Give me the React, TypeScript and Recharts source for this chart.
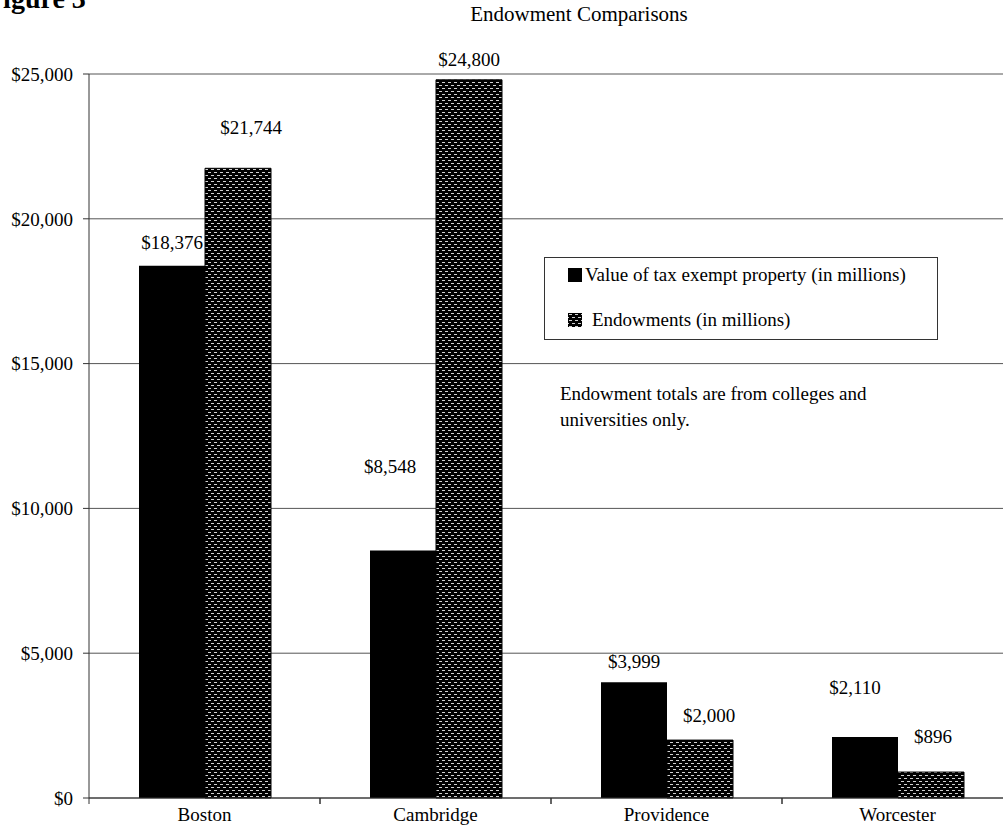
import React from "react";
import { BarChart, Bar, XAxis, YAxis, CartesianGrid, Legend, LabelList } from "recharts";

const categories = ["Boston", "Cambridge", "Providence", "Worcester"];
const propertyValues = [18376, 8548, 3999, 2110];
const endowmentValues = [21744, 24800, 2000, 896];
const yTicks = [0, 5000, 10000, 15000, 20000, 25000];
const seriesNames = ["Value of tax exempt property (in millions)", "Endowments (in millions)"];

// label nudges (style, not data)
const liftProperty = [23, 84, 21, 50];
const shiftProperty = [0, -13, 0, -10];
const liftEndow = [41, 20, 25, 36];
const shiftEndow = [13, 0, 9, 2];

const data = categories.map((c, i) => ({
  name: c,
  property: propertyValues[i],
  endowment: endowmentValues[i],
}));

const FONT = "'Liberation Serif', 'Times New Roman', serif";
const CHART_W = 1030;
const PLOT_LEFT = 89;
const PLOT_RIGHT = 1013;
const BAND = (PLOT_RIGHT - PLOT_LEFT) / categories.length;

const fmt = (v: number) => "$" + v.toLocaleString("en-US");

const makeLabel = (lift: number[], shift: number[]) => (props: any) => {
  const { x, y, width, value, index } = props;
  return (
    <text
      x={x + width / 2 + shift[index]}
      y={y - lift[index]}
      dy="0.35em"
      textAnchor="middle"
      fontFamily={FONT}
      fontSize={19}
      fill="#000"
    >
      {fmt(value)}
    </text>
  );
};

const XTick = (props: any) => {
  const { x, y, payload } = props;
  return (
    <g>
      <line x1={x - BAND / 2} x2={x - BAND / 2} y1={y} y2={y + 6} stroke="#333" />
      <line x1={x + BAND / 2} x2={x + BAND / 2} y1={y} y2={y + 6} stroke="#333" />
      <text x={x} y={y + 23} textAnchor="middle" fontFamily={FONT} fontSize={19} fill="#000">
        {payload.value}
      </text>
    </g>
  );
};

const PatternDef = ({ id }: { id: string }) => (
  <pattern id={id} width={6} height={6} patternUnits="userSpaceOnUse">
    <rect x={0} y={0} width={6} height={6} fill="#000" />
    <rect x={1} y={1} width={3} height={1} fill="#d0d0d0" />
    <rect x={4} y={4} width={3} height={1} fill="#d0d0d0" />
    <rect x={-2} y={4} width={3} height={1} fill="#d0d0d0" />
  </pattern>
);

const LegendBox = () => (
  <div
    style={{
      width: 392,
      height: 81,
      border: "1px solid #333",
      background: "#fff",
      fontFamily: FONT,
      fontSize: 19,
      color: "#000",
      position: "relative",
      boxSizing: "content-box",
    }}
  >
    <div style={{ position: "absolute", left: 23, top: 6, display: "flex", alignItems: "center", whiteSpace: "nowrap" }}>
      <span style={{ display: "inline-block", width: 14, height: 14, background: "#000", marginRight: 3 }} />
      <span>{seriesNames[0]}</span>
    </div>
    <div style={{ position: "absolute", left: 23, top: 51, display: "flex", alignItems: "center", whiteSpace: "nowrap" }}>
      <svg width={14} height={14} style={{ marginRight: 10 }}>
        <defs>
          <PatternDef id="legendPat" />
        </defs>
        <rect x={0} y={0} width={14} height={14} fill="url(#legendPat)" />
      </svg>
      <span>{seriesNames[1]}</span>
    </div>
  </div>
);

export default function App() {
  return (
    <div style={{ position: "absolute", left: 0, top: 0, width: 1003, height: 840, overflow: "hidden", background: "#fff" }}>
      <BarChart
        width={CHART_W}
        height={840}
        data={data}
        margin={{ top: 74, right: CHART_W - PLOT_RIGHT, bottom: 0, left: 0 }}
        barGap={0}
      >
        <defs>
          <PatternDef id="endowPat" />
        </defs>
        <CartesianGrid vertical={false} stroke="#555" />
        <XAxis
          dataKey="name"
          height={42}
          tickSize={0}
          tickMargin={0}
          tick={<XTick />}
          axisLine={{ stroke: "#333" }}
          tickLine={false}
          interval={0}
        />
        <YAxis
          width={PLOT_LEFT}
          domain={[0, 25000]}
          ticks={yTicks}
          tickFormatter={fmt}
          tickSize={6}
          tickMargin={10}
          axisLine={{ stroke: "#333" }}
          tickLine={{ stroke: "#333" }}
          tick={{ fontFamily: FONT, fontSize: 19, fill: "#000" }}
          interval={0}
        />
        <Legend
          layout="horizontal"
          verticalAlign="middle"
          align="center"
          content={<LegendBox />}
          wrapperStyle={{ position: "absolute", left: 544, top: 257, width: 394, height: 83 }}
        />
        <Bar dataKey="property" name={seriesNames[0]} fill="#000" barSize={66} isAnimationActive={false}>
          <LabelList dataKey="property" content={makeLabel(liftProperty, shiftProperty)} />
        </Bar>
        <Bar dataKey="endowment" name={seriesNames[1]} fill="url(#endowPat)" stroke="#000" barSize={66} isAnimationActive={false}>
          <LabelList dataKey="endowment" content={makeLabel(liftEndow, shiftEndow)} />
        </Bar>
      </BarChart>
      <svg width={1003} height={840} style={{ position: "absolute", left: 0, top: 0, pointerEvents: "none" }}>
        <text x={-14} y={8} fontFamily={FONT} fontSize={28} fontWeight="bold" fill="#000">
          Figure 3
        </text>
        <text x={579} y={21} textAnchor="middle" fontFamily={FONT} fontSize={21} fill="#000">
          Endowment Comparisons
        </text>
        <text x={560} y={400} fontFamily={FONT} fontSize={19} fill="#000">
          Endowment totals are from colleges and
        </text>
        <text x={560} y={426} fontFamily={FONT} fontSize={19} fill="#000">
          universities only.
        </text>
      </svg>
    </div>
  );
}
